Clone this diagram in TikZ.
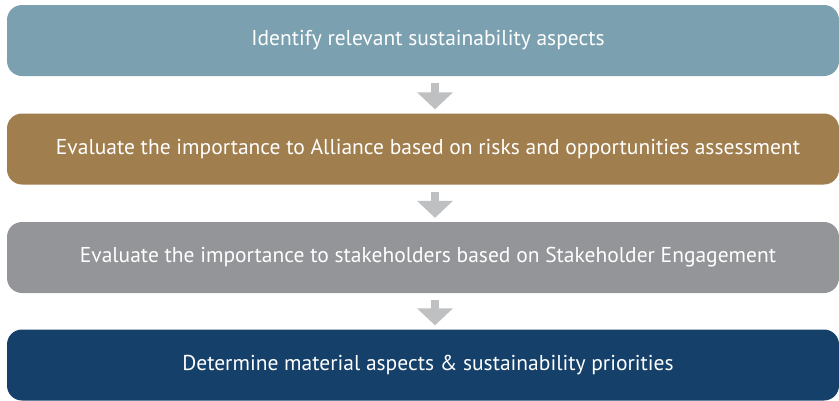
\documentclass[tikz,border=0pt]{standalone}
\usepackage{fontspec}
\setmainfont{PT Sans}
\usetikzlibrary{arrows.meta}
\definecolor{stepblue}{RGB}{123,161,176}
\definecolor{stepbrown}{RGB}{160,126,77}
\definecolor{stepgrey}{RGB}{147,149,152}
\definecolor{stepnavy}{RGB}{21,64,105}
\definecolor{arrowgrey}{RGB}{191,192,194}
\tikzset{
  stepbox/.style={rounded corners=15pt, minimum width=832pt, minimum height=71pt,
    inner sep=0pt, text=white, font=\fontsize{21.5}{26}\selectfont,
    execute at begin node={\hspace*{10pt}}},
  flowarrow/.style={draw=arrowgrey, line width=8pt,
    -{Triangle[width=35pt,length=17pt]}, shorten <=7pt, shorten >=4pt}
}

\begin{document}
\begin{tikzpicture}[x=1pt,y=-1pt]
			%%%%% START %%%%%
			\useasboundingbox (0,0) rectangle (839,400);
			
			\node[stepbox, fill=stepblue] (identify) at (423,40.5) {Identify relevant sustainability aspects};
			\node[stepbox, fill=stepbrown] (alliance) at (423,149) {Evaluate the importance to Alliance based on risks and opportunities assessment};
			\node[stepbox, fill=stepgrey] (stakeholders) at (423,257.5) {Evaluate the importance to stakeholders based on Stakeholder Engagement};
			\node[stepbox, fill=stepnavy] (material) at (423,365) {Determine material aspects \& sustainability priorities};
			
			\coordinate (ax) at (435,0);
			\draw[flowarrow] (identify.south -| ax) -- (alliance.north -| ax);
			\draw[flowarrow] (alliance.south -| ax) -- (stakeholders.north -| ax);
			\draw[flowarrow] (stakeholders.south -| ax) -- (material.north -| ax);
			
			%%%%% END %%%%%
		\end{tikzpicture}
\end{document}
